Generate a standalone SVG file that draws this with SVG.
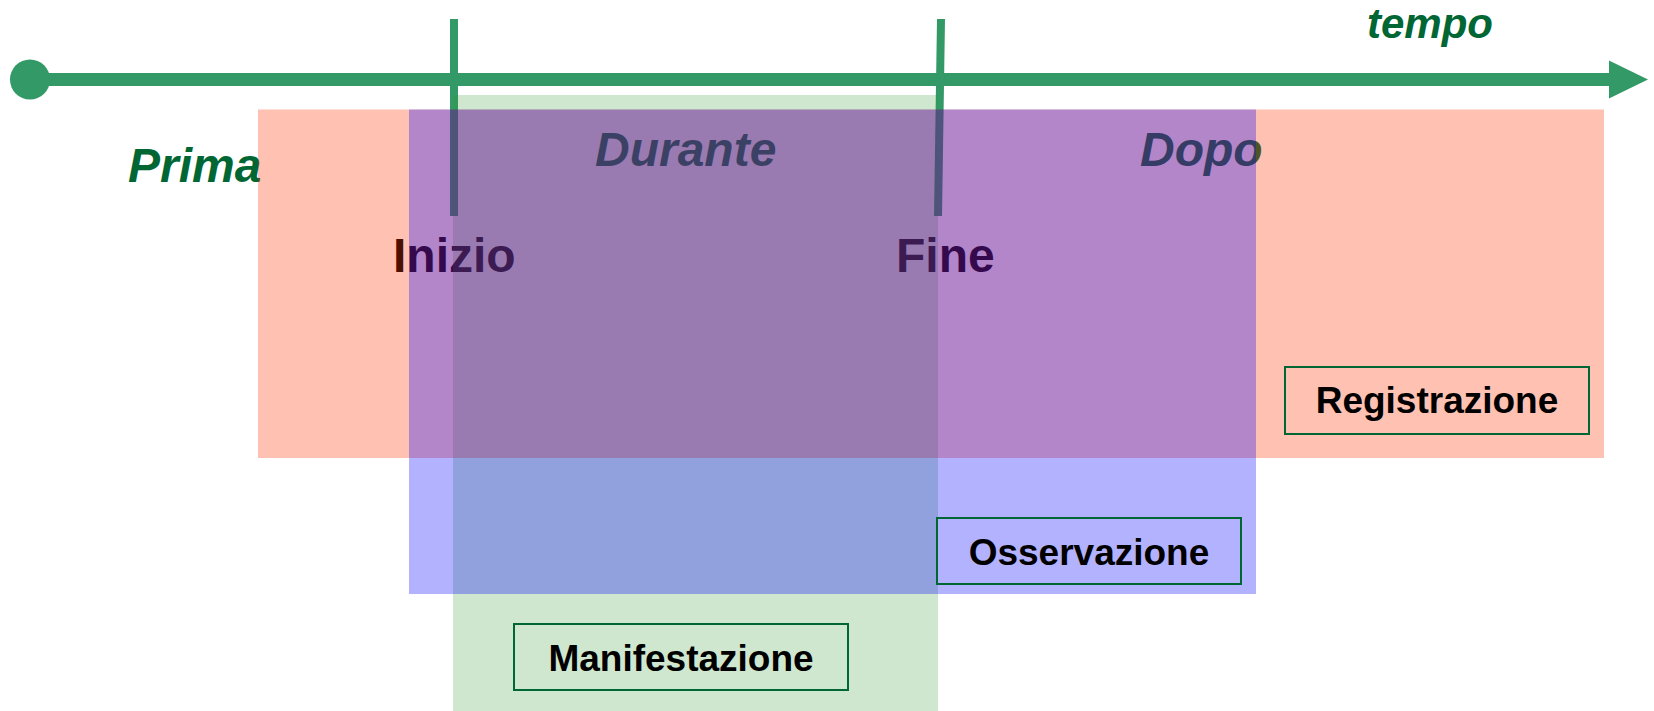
<svg xmlns="http://www.w3.org/2000/svg" width="1654" height="711" viewBox="0 0 1654 711">
<style>
.ph{font-family:"Liberation Sans",Arial,sans-serif;font-weight:bold;font-style:italic;font-size:48px;fill:#006633}
.ev{font-family:"Liberation Sans",Arial,sans-serif;font-weight:bold;font-size:48px;fill:#000}
.lb{font-family:"Liberation Sans",Arial,sans-serif;font-weight:bold;font-size:37px;fill:#000;text-anchor:middle}
.box{fill:none;stroke:#006633;stroke-width:2}
.tick{stroke:#339966;stroke-width:8}
</style>
<defs>
<marker id="ah" markerUnits="userSpaceOnUse" markerWidth="40" markerHeight="40" refX="0" refY="19" orient="auto" viewBox="0 0 40 38">
<path d="M0,0 L39,19 L0,38 Z" fill="#339966"/>
</marker>
</defs>
<g id="connectors">
<line x1="30" y1="79.5" x2="1609" y2="79.5" stroke="#339966" stroke-width="13" marker-end="url(#ah)"/>
<circle cx="30" cy="79.5" r="20" fill="#339966"/>
<line class="tick" x1="454" y1="19" x2="454" y2="216"/>
<line class="tick" x1="941" y1="19" x2="938" y2="216"/>
</g>
<g id="phases">
<text class="ph" x="1367" y="38" font-size="42" style="font-size:42px">tempo</text>
<text class="ph" x="128" y="182">Prima</text>
<text class="ph" x="595" y="166">Durante</text>
<text class="ph" x="1140" y="166">Dopo</text>
<text class="ev" x="393" y="272">Inizio</text>
<text class="ev" x="896" y="272">Fine</text>
</g>
<g id="manifestazione-area">
<rect x="453" y="95" width="485" height="616" fill="#339933" fill-opacity="0.24"/>
</g>
<g id="registrazione-area">
<rect x="258" y="109.5" width="1346" height="348.5" fill="#FF3300" fill-opacity="0.3"/>
</g>
<g id="osservazione-area">
<rect x="409" y="109.5" width="847" height="484.5" fill="#0000FF" fill-opacity="0.3"/>
</g>
<g id="registrazione">
<rect class="box" x="1285" y="367" width="304" height="67"/>
<text class="lb" x="1437" y="413">Registrazione</text>
</g>
<g id="osservazione">
<rect class="box" x="937" y="518" width="304" height="66"/>
<text class="lb" x="1089" y="565">Osservazione</text>
</g>
<g id="manifestazione">
<rect class="box" x="514" y="624" width="334" height="66"/>
<text class="lb" x="681" y="671">Manifestazione</text>
</g>
</svg>
